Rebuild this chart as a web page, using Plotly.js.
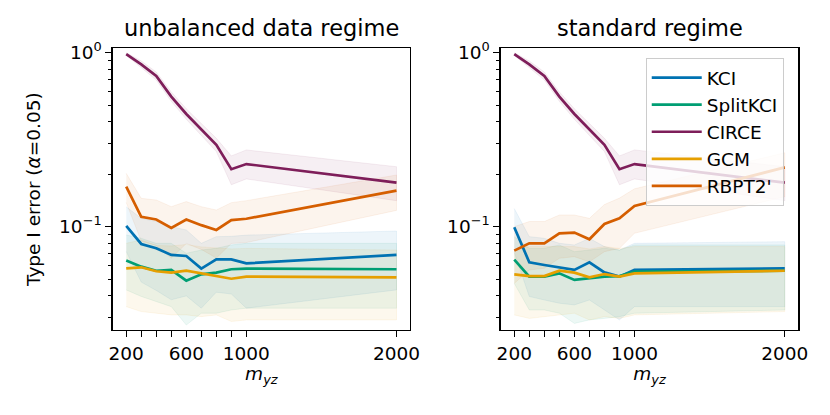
<!DOCTYPE html>
<html>
<head>
<meta charset="utf-8">
<script src="https://cdn.plot.ly/plotly-3.0.1.min.js"></script>
<style>
  body { margin: 0; background: #fff; }
  #chart { width: 830px; height: 415px; }
</style>
</head>
<body>
<div id="chart"></div>
<script>
// sample sizes on the x axis
const M_YZ = [200, 300, 400, 500, 600, 700, 800, 900, 1000, 2000];
const X_TICK_VALS = [200, 600, 1000, 2000];
const X_TICK_LABELS = ['200', '600', '1000', '2000'];
const Y_TICK_VALS = [0.1, 1];
const Y_TICK_LABELS = ['10<sup>\u22121</sup>', '10<sup>0</sup>'];
const Y_MINOR = [0.03, 0.04, 0.05, 0.06, 0.07, 0.08, 0.09, 0.2, 0.3, 0.4, 0.5, 0.6, 0.7, 0.8, 0.9];
const ALPHA = 0.05;

const SERIES = ['KCI', 'SplitKCI', 'CIRCE', 'GCM', "RBPT2'"];
const COLORS = ['#0072b2', '#009e73', '#7e1e5a', '#e69f00', '#d55e00'];

// unbalanced data regime
const kciUnbal     = [0.101, 0.0795, 0.0751, 0.0688, 0.0678, 0.0574, 0.0649, 0.0649, 0.0615, 0.0688];
const kciUnbalHi   = [0.130, 0.1116, 0.107, 0.100, 0.0957, 0.0802, 0.0876, 0.088, 0.0894, 0.0944];
const kciUnbalLo   = [0.072, 0.048, 0.043, 0.038, 0.040, 0.034, 0.042, 0.041, 0.034, 0.0433];
const splitUnbal   = [0.0638, 0.0589, 0.0558, 0.0564, 0.0489, 0.0532, 0.0544, 0.0569, 0.0574, 0.0569];
const splitUnbalHi = [0.0896, 0.0857, 0.0802, 0.0802, 0.0703, 0.0734, 0.0751, 0.0785, 0.0802, 0.0802];
const splitUnbalLo = [0.0433, 0.0397, 0.0371, 0.0347, 0.0272, 0.0318, 0.0318, 0.0332, 0.034, 0.034];
const circeUnbal   = [0.982, 0.857, 0.734, 0.559, 0.444, 0.362, 0.295, 0.214, 0.229, 0.179];
const circeUnbalHi = [1.0, 0.896, 0.774, 0.595, 0.476, 0.392, 0.322, 0.255, 0.276, 0.221];
const circeUnbalLo = [0.965, 0.820, 0.696, 0.525, 0.414, 0.334, 0.270, 0.174, 0.188, 0.141];
const gcmUnbal     = [0.0576, 0.0584, 0.0554, 0.0544, 0.0558, 0.0539, 0.0523, 0.0502, 0.0516, 0.0511];
const gcmUnbalHi   = [0.0802, 0.0838, 0.078, 0.0775, 0.079, 0.0765, 0.0755, 0.0745, 0.075, 0.0734];
const gcmUnbalLo   = [0.0347, 0.0325, 0.0318, 0.0311, 0.0311, 0.0304, 0.0311, 0.0285, 0.0291, 0.0291];
const rbptUnbal    = [0.170, 0.114, 0.110, 0.0983, 0.110, 0.102, 0.0957, 0.109, 0.111, 0.161];
const rbptUnbalHi  = [0.2025, 0.1455, 0.1423, 0.1303, 0.1393, 0.1303, 0.1247, 0.1374, 0.1411, 0.198];
const rbptUnbalLo  = [0.1375, 0.0825, 0.078, 0.066, 0.080, 0.074, 0.066, 0.080, 0.081, 0.124];

// standard regime
const kciStd     = [0.0991, 0.0624, 0.0602, 0.0584, 0.0564, 0.0624, 0.0546, 0.0516, 0.0564, 0.0576];
const kciStdHi   = [0.127, 0.0876, 0.0857, 0.0802, 0.0785, 0.0857, 0.0768, 0.0734, 0.0802, 0.082];
const kciStdLo   = [0.071, 0.0397, 0.0379, 0.0363, 0.0355, 0.0379, 0.0332, 0.0291, 0.0347, 0.0347];
const splitStd   = [0.0646, 0.0516, 0.0516, 0.0539, 0.0494, 0.0504, 0.0516, 0.052, 0.0551, 0.0558];
const splitStdHi = [0.0876, 0.0751, 0.0751, 0.0785, 0.0718, 0.0734, 0.0751, 0.0734, 0.0785, 0.0785];
const splitStdLo = [0.0472, 0.0332, 0.0332, 0.0318, 0.0278, 0.0291, 0.0297, 0.0304, 0.0318, 0.0332];
const circeStd   = [0.982, 0.857, 0.734, 0.559, 0.444, 0.362, 0.295, 0.214, 0.229, 0.179];
const circeStdHi = [1.0, 0.896, 0.774, 0.595, 0.476, 0.392, 0.322, 0.255, 0.276, 0.221];
const circeStdLo = [0.965, 0.820, 0.696, 0.525, 0.414, 0.334, 0.270, 0.174, 0.188, 0.141];
const gcmStd     = [0.0532, 0.052, 0.052, 0.0558, 0.0544, 0.0511, 0.0534, 0.0516, 0.0539, 0.0558];
const gcmStdHi   = [0.0734, 0.0768, 0.0768, 0.077, 0.0768, 0.0745, 0.0768, 0.075, 0.0768, 0.0768];
const gcmStdLo   = [0.0311, 0.0297, 0.0304, 0.0311, 0.0318, 0.0291, 0.0304, 0.0297, 0.0311, 0.0325];
const rbptStd    = [0.0728, 0.0802, 0.0802, 0.0916, 0.0924, 0.0846, 0.1036, 0.1117, 0.1315, 0.219];
const rbptStdHi  = [0.1, 0.107, 0.107, 0.1167, 0.1167, 0.1116, 0.134, 0.146, 0.165, 0.266];
const rbptStdLo  = [0.0472, 0.0564, 0.0576, 0.0658, 0.0672, 0.0628, 0.0718, 0.0751, 0.0916, 0.1487];

const FONT = 'DejaVu Sans, sans-serif';

function rgba(hex, a) {
  let r = parseInt(hex.slice(1, 3), 16);
  let g = parseInt(hex.slice(3, 5), 16);
  let b = parseInt(hex.slice(5, 7), 16);
  return 'rgba(' + r + ',' + g + ',' + b + ',' + a + ')';
}

function addPanel(traces, mids, his, los, xa, ya, showLegend) {
  // shaded bands first
  mids.forEach((m, i) => {
    traces.push({
      x: M_YZ.concat(M_YZ.slice().reverse()),
      y: his[i].concat(los[i].slice().reverse()),
      xaxis: xa, yaxis: ya,
      mode: 'lines',
      fill: 'toself',
      fillcolor: rgba(COLORS[i], 0.07),
      line: { width: 0.8, color: rgba(COLORS[i], 0.09) },
      hoverinfo: 'skip',
      showlegend: false
    });
  });
  // then the mean lines
  mids.forEach((m, i) => {
    traces.push({
      x: M_YZ, y: m,
      xaxis: xa, yaxis: ya,
      mode: 'lines',
      name: SERIES[i],
      line: { color: COLORS[i], width: 2.7 },
      showlegend: showLegend
    });
  });
}

let traces = [];
addPanel(traces,
  [kciUnbal, splitUnbal, circeUnbal, gcmUnbal, rbptUnbal],
  [kciUnbalHi, splitUnbalHi, circeUnbalHi, gcmUnbalHi, rbptUnbalHi],
  [kciUnbalLo, splitUnbalLo, circeUnbalLo, gcmUnbalLo, rbptUnbalLo],
  'x', 'y', false);
addPanel(traces,
  [kciStd, splitStd, circeStd, gcmStd, rbptStd],
  [kciStdHi, splitStdHi, circeStdHi, gcmStdHi, rbptStdHi],
  [kciStdLo, splitStdLo, circeStdLo, gcmStdLo, rbptStdLo],
  'x2', 'y2', true);

function xAxis(domain, anchor) {
  return {
    domain: domain, anchor: anchor,
    range: [110, 2090],
    tickmode: 'array', tickvals: X_TICK_VALS, ticktext: X_TICK_LABELS,
    ticks: 'outside', ticklen: 6, tickwidth: 1.2, tickcolor: '#000',
    // unlabelled ticks at the remaining sample sizes
    minor: { tickmode: 'array', tickvals: M_YZ.filter(v => X_TICK_VALS.indexOf(v) < 0),
             ticks: 'outside', ticklen: 6, tickwidth: 1.2, tickcolor: '#000', showgrid: false },
    showline: true, linecolor: '#000', linewidth: 1.3, mirror: true,
    showgrid: false, zeroline: false, automargin: false,
    tickfont: { family: FONT, size: 18.5, color: '#000' },
    title: { text: '<i>m</i><sub><i>yz</i></sub>', font: { family: FONT, size: 18.5, color: '#000' }, standoff: 0 }
  };
}

function yAxis(domain, anchor, title) {
  let ax = {
    domain: domain, anchor: anchor,
    type: 'log', range: [-1.594, 0.025],
    tickmode: 'array', tickvals: Y_TICK_VALS, ticktext: Y_TICK_LABELS,
    ticks: 'outside', ticklen: 6, tickwidth: 1.2, tickcolor: '#000',
    minor: { tickmode: 'array', tickvals: Y_MINOR, ticks: 'outside', ticklen: 3.5, tickwidth: 1, tickcolor: '#000', showgrid: false },
    showline: true, linecolor: '#000', linewidth: 1.3, mirror: true,
    showgrid: false, zeroline: false, automargin: false,
    tickfont: { family: FONT, size: 18.5, color: '#000' }
  };
  if (title) ax.title = { text: title, font: { family: FONT, size: 18.5, color: '#000' }, standoff: 13 };
  return ax;
}

function alphaLine(xref, yref) {
  return {
    type: 'line', xref: xref + ' domain', yref: yref,
    x0: 0, x1: 1,
    y0: Math.log10(ALPHA), y1: Math.log10(ALPHA),
    line: { color: '#606060', width: 3, dash: '10px,5px' },
    layer: 'above'
  };
}

let layout = {
  width: 830, height: 415,
  margin: { l: 0, r: 0, t: 0, b: 0 },
  paper_bgcolor: '#fff', plot_bgcolor: '#fff',
  font: { family: FONT, color: '#000' },
  xaxis: xAxis([0.1358, 0.494], 'y'),
  yaxis: yAxis([0.2048, 0.8836], 'x', 'Type I error (<i>\u03b1</i>=0.05)'),
  xaxis2: xAxis([0.6033, 0.9618], 'y2'),
  yaxis2: yAxis([0.2048, 0.8836], 'x2', null),
  shapes: [alphaLine('x', 'y'), alphaLine('x2', 'y2')],
  annotations: [
    { text: 'unbalanced data regime', xref: 'x domain', yref: 'paper', x: 0.5, y: 0.933,
      xanchor: 'center', yanchor: 'middle', showarrow: false, font: { family: FONT, size: 22.5, color: '#000' } },
    { text: 'standard regime', xref: 'x2 domain', yref: 'paper', x: 0.5, y: 0.933,
      xanchor: 'center', yanchor: 'middle', showarrow: false, font: { family: FONT, size: 22.5, color: '#000' } }
  ],
  legend: {
    x: 0.778, y: 0.860, xanchor: 'left', yanchor: 'top',
    itemwidth: 50,
    bgcolor: 'rgba(255,255,255,0.8)', bordercolor: '#cccccc', borderwidth: 1,
    font: { family: FONT, size: 18.5, color: '#000' }
  }
};

Plotly.newPlot('chart', traces, layout, { staticPlot: true });
</script>
</body>
</html>
